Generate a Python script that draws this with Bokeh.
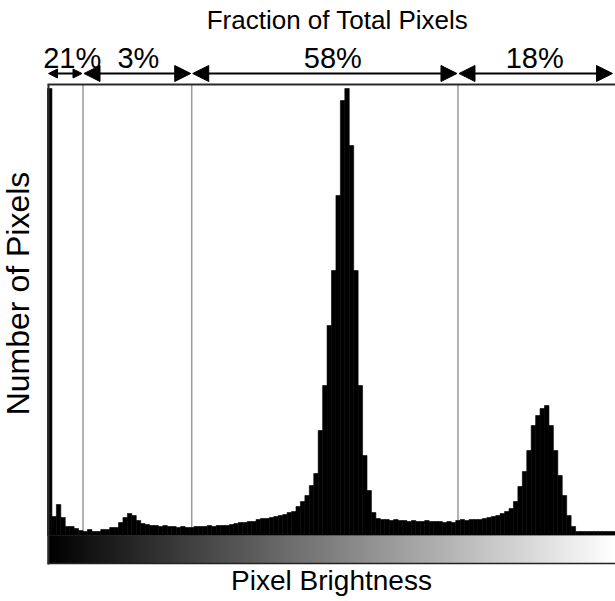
import numpy as np
from bokeh.plotting import figure
from bokeh.models import Range1d, Arrow, NormalHead, ColumnDataSource
from bokeh.palettes import Greys256
from bokeh.embed import file_html
from bokeh.resources import INLINE
from bokeh.core.properties import value

# ---------------- data ----------------
bin_width = 2  # brightness levels per histogram bin (0..255)
pixel_counts = [
    44700, 1900, 3100, 1800, 900, 900, 700, 500, 400, 600,
    400, 400, 600, 600, 800, 800, 1300, 1800, 2200, 2000,
    1500, 1200, 1100, 1000, 1000, 900, 1000, 900, 900, 800,
    900, 800, 800, 900, 900, 900, 1000, 900, 1000, 1000,
    1000, 1100, 1200, 1300, 1300, 1400, 1400, 1600, 1700, 1700,
    1800, 1900, 2000, 2100, 2300, 2400, 2900, 3400, 4000, 5000,
    6200, 10500, 15000, 21000, 26500, 34000, 43500, 44700, 39000, 26500,
    15000, 8000, 4500, 2300, 1700, 1600, 1600, 1500, 1600, 1500,
    1500, 1400, 1500, 1400, 1400, 1500, 1400, 1400, 1400, 1300,
    1400, 1300, 1500, 1600, 1500, 1600, 1600, 1600, 1700, 1800,
    1900, 2000, 2200, 2400, 2700, 3400, 4900, 6400, 8500, 11000,
    12000, 12700, 13000, 11000, 8500, 6000, 4000, 2000, 900, 400,
    400, 400, 400, 400, 400, 400, 400, 400,
]
region_bounds = [0, 16, 65, 185, 256]
region_fractions = ["21%", "3%", "58%", "18%"]
title_text = "Fraction of Total Pixels"
x_label = "Pixel Brightness"
y_label = "Number of Pixels"

# ---------------- layout ----------------
W, H = 615, 601
PX_X = 568.0 / 256.0       # px per brightness level
PX_Y = 0.01                # px per count
X0 = 47                    # px from left where brightness 0 sits
Y0 = 535                   # px from top where count 0 sits

x_range = Range1d(-X0 / PX_X, (W - X0) / PX_X)
y_range = Range1d(-(H - Y0) / PX_Y, Y0 / PX_Y)

p = figure(width=W, height=H, x_range=x_range, y_range=y_range,
           x_axis_type=None, y_axis_type=None, toolbar_location=None,
           output_backend="svg", min_border=0)
p.grid.visible = False
p.outline_line_color = None
p.background_fill_color = "white"
p.border_fill_color = "white"

def cy(page_y):
    return (Y0 - page_y) / PX_Y

def cx(page_x):
    return (page_x - X0) / PX_X

FONT = value("Liberation Sans")
top_y = cy(84)
bar_h = -cy(563)

# threshold lines
th = region_bounds[1:-1]
p.segment(x0=th, y0=[0] * len(th), x1=th, y1=[top_y] * len(th),
          line_color="#9a9a9a", line_width=1.5)

# histogram
edges = np.arange(0, 256 + bin_width, bin_width)
src = ColumnDataSource(dict(left=edges[:-1], right=edges[1:], top=pixel_counts))
p.quad(left="left", right="right", bottom=0, top="top", source=src,
       fill_color="black", line_color="black", line_width=0.6)

# brightness gradient bar
levels = np.arange(256).reshape(1, 256)
p.image(image=[levels], x=0, y=-bar_h, dw=256, dh=bar_h, palette=Greys256)
p.segment(x0=[0], y0=[-bar_h], x1=[256], y1=[-bar_h], line_color="#222222", line_width=1.5)

# frame lines (top and left)
p.segment(x0=[0], y0=[top_y], x1=[256], y1=[top_y], line_color="#2a2a2a", line_width=2)
p.segment(x0=[cx(48)], y0=[top_y], x1=[cx(48)], y1=[cy(564)], line_color="#2a2a2a", line_width=2)

# arrows
arrow_y = cy(73)
pad = 1 / PX_X
for i in range(len(region_fractions)):
    lo, hi = region_bounds[i], region_bounds[i + 1]
    hs = 9 if i == 0 else 16
    end_pad = 3 / PX_X if i == len(region_fractions) - 1 else pad
    p.add_layout(Arrow(
        start=NormalHead(size=hs, fill_color="black", line_color="black", line_width=1),
        end=NormalHead(size=hs, fill_color="black", line_color="black", line_width=1),
        x_start=lo + pad, y_start=arrow_y, x_end=hi - end_pad, y_end=arrow_y,
        line_color="black", line_width=2))

# percentage labels
mids = [(region_bounds[i] + region_bounds[i + 1]) / 2 for i in range(len(region_fractions))]
p.text(x=mids, y=[cy(57)] * len(mids), text=region_fractions,
       x_offset=[7, 1, 8, -2], text_font=FONT, text_font_size=value("29px"),
       text_align="center", text_baseline="alphabetic", text_color="black")

# title and axis labels
p.text(x=[cx(337)], y=[cy(19)], text=[title_text], text_font=FONT,
       text_font_size=value("26px"), text_align="center", text_baseline="alphabetic",
       text_color="black")
p.text(x=[cx(331)], y=[cy(580)], text=[x_label], text_font=FONT,
       text_font_size=value("28px"), text_align="center", text_baseline="alphabetic",
       text_color="black")
p.text(x=[cx(17)], y=[cy(293)], text=[y_label], text_font=FONT,
       text_font_size=value("32px"), text_align="center", text_baseline="alphabetic",
       angle=np.pi / 2, text_color="black")

open("out.html", "w").write(file_html(p, INLINE))
